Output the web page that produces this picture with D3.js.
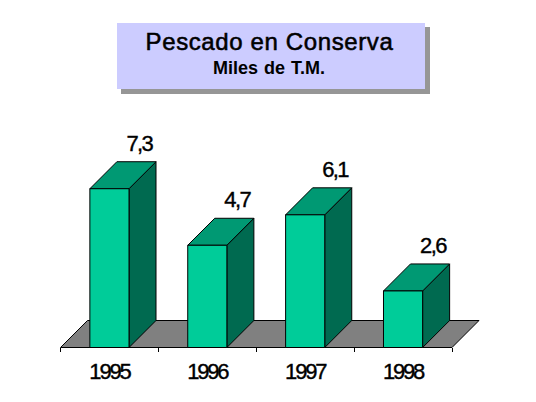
<!DOCTYPE html>
<html><head><meta charset="utf-8">
<script src="https://cdn.jsdelivr.net/npm/d3@7"></script>
<style>html,body{margin:0;background:#fff}svg{display:block}text{font-family:"Liberation Sans",Arial,sans-serif;fill:#000}</style>
</head><body><div id="c"></div>
<script>
const categories = ["1995","1996","1997","1998"];
const values = [7.3,4.7,6.1,2.6];
const labels = ["7,3","4,7","6,1","2,6"];
const title = "Pescado en Conserva";
const subtitle = "Miles de T.M.";

const W=536,H=402,depth=27;
const svg=d3.select("#c").append("svg").attr("width",W).attr("height",H);
const x=d3.scaleBand().domain(categories).range([60.5,452]).paddingInner(0.6).paddingOuter(0.3);
const y=d3.scaleLinear().domain([0,8]).range([347.5,173.5]);
const line=d3.line();
const crisp="crispEdges";

// title box
svg.append("rect").attr("x",121).attr("y",27).attr("width",309).attr("height",67).attr("fill","#969696");
svg.append("rect").attr("x",117).attr("y",23).attr("width",308).attr("height",66).attr("fill","#ccccff");
svg.append("text").attr("x",269.5).attr("y",50).attr("text-anchor","middle").attr("font-size",24).attr("letter-spacing",0.62).attr("stroke","#000").attr("stroke-width",0.55).text(title);
svg.append("text").attr("x",269).attr("y",74).attr("text-anchor","middle").attr("font-size",18).attr("font-weight","bold").attr("word-spacing",1).text(subtitle);

// floor
const [x0,x1]=x.range(), y0=y(0);
svg.append("path").attr("d",line([[x0,y0],[x1,y0],[x1+depth,y0-depth],[x0+depth,y0-depth]])+"Z")
  .attr("fill","#808080").attr("stroke","#000").attr("stroke-width",1);

// axis
const step=x.step();
const ticks=d3.range(categories.length+1).map(i=>x0+i*step);
svg.selectAll(".tick").data(ticks).join("line").attr("x1",d=>d).attr("x2",d=>d).attr("y1",y0).attr("y2",y0+4).attr("stroke","#000").attr("shape-rendering",crisp);

// bars
const g=svg.selectAll(".bar").data(categories.map((c,i)=>({c,v:values[i],l:labels[i]}))).join("g");
const stroke=s=>s.attr("stroke","#000").attr("stroke-width",1).attr("stroke-linejoin","round");
g.append("path").attr("d",d=>{const a=x(d.c),b=a+x.bandwidth(),t=y(d.v);
  return line([[b,t],[b+depth,t-depth],[b+depth,y0-depth],[b,y0]])+"Z"}).attr("fill","#006a50").call(stroke);
g.append("path").attr("d",d=>{const a=x(d.c),b=a+x.bandwidth(),t=y(d.v);
  return line([[a,t],[a+depth,t-depth],[b+depth,t-depth],[b,t]])+"Z"}).attr("fill","#009973").call(stroke);
g.append("rect").attr("x",d=>x(d.c)).attr("y",d=>y(d.v)).attr("width",x.bandwidth()).attr("height",d=>y0-y(d.v)).attr("fill","#00cc99").call(stroke);

g.append("text").attr("x",d=>x(d.c)+49.5).attr("y",d=>y(d.v)-depth-11).attr("text-anchor","middle").attr("font-size",22).attr("letter-spacing",-1.6).attr("stroke","#000").attr("stroke-width",0.4).text(d=>d.l);
g.append("text").attr("x",d=>x(d.c)+x.bandwidth()/2).attr("y",379).attr("text-anchor","middle").attr("font-size",22).attr("letter-spacing",-2.2).attr("stroke","#000").attr("stroke-width",0.4).text(d=>d.c);
</script></body></html>
